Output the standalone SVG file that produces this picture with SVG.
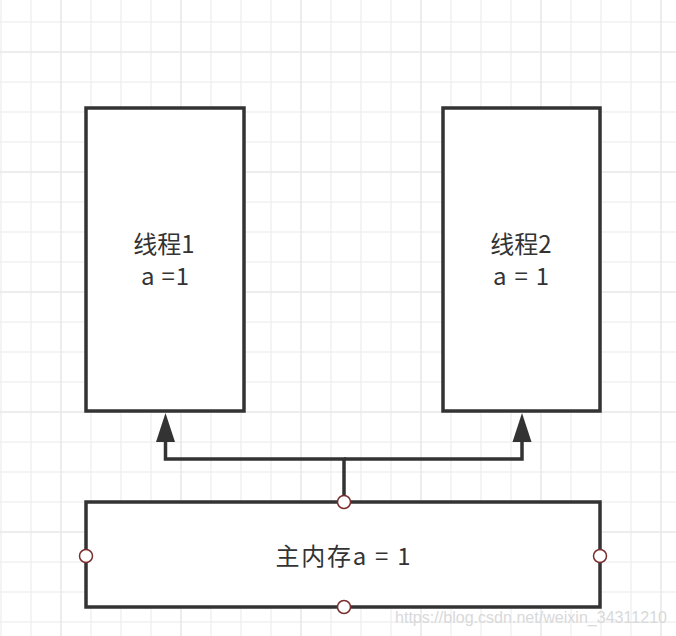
<svg xmlns="http://www.w3.org/2000/svg" width="676" height="636" viewBox="0 0 676 636">
<style>
.minor{stroke:#f1f1f1;stroke-width:1.5;fill:none}
.major{stroke:#e8e8e8;stroke-width:1.5;fill:none}
.box{fill:#ffffff;stroke:#333333;stroke-width:3.5}
.lbl{font-family:"Noto Sans CJK SC","Liberation Sans",sans-serif;font-size:24px;fill:#333333;text-anchor:middle}
.edge{stroke:#333333;stroke-width:3.5;fill:none}
.pt{fill:#ffffff;stroke:#7a2e2e;stroke-width:1.5}
.wm{font-family:"Liberation Sans",sans-serif;font-size:16px;fill:#d9d9d9}
</style>
<rect width="676" height="636" fill="#ffffff"/>
<g id="grid">
<path class="minor" d="M1 0V636M31 0V636M91 0V636M121 0V636M151 0V636M211 0V636M241 0V636M271 0V636M331 0V636M361 0V636M391 0V636M451 0V636M481 0V636M511 0V636M571 0V636M601 0V636M631 0V636M0 22H676M0 82H676M0 112H676M0 142H676M0 202H676M0 232H676M0 262H676M0 322H676M0 352H676M0 382H676M0 442H676M0 472H676M0 502H676M0 562H676M0 592H676M0 622H676"/>
<path class="major" d="M61 0V636M181 0V636M301 0V636M421 0V636M541 0V636M661 0V636M0 52H676M0 172H676M0 292H676M0 412H676M0 532H676"/>
</g>
<g id="connectors">
<path class="edge" d="M344 502V459H165.5V442"/>
<path class="edge" d="M344 459H522V442"/>
<path d="M165.5 413L175 442H156Z" fill="#333333"/>
<path d="M522 413L531.5 442H512.5Z" fill="#333333"/>
</g>
<g id="thread1">
<rect class="box" x="86" y="108" width="158" height="303"/>
<text class="lbl" x="164" y="253">线程1</text>
<text class="lbl" x="165" y="285" textLength="48">a =1</text>
</g>
<g id="thread2">
<rect class="box" x="443" y="108" width="157" height="303"/>
<text class="lbl" x="521" y="253">线程2</text>
<text class="lbl" x="521" y="285" textLength="56">a = 1</text>
</g>
<g id="memory">
<rect class="box" x="86" y="502" width="514" height="105"/>
<text class="lbl" x="343" y="565" textLength="135">主内存a = 1</text>
<circle class="pt" cx="344" cy="502" r="6.5"/>
<circle class="pt" cx="344" cy="607" r="6.5"/>
<circle class="pt" cx="86" cy="556" r="6.5"/>
<circle class="pt" cx="600" cy="556" r="6.5"/>
</g>
<text class="wm" x="395" y="623" textLength="272" lengthAdjust="spacingAndGlyphs">https://blog.csdn.net/weixin_34311210</text>
</svg>
